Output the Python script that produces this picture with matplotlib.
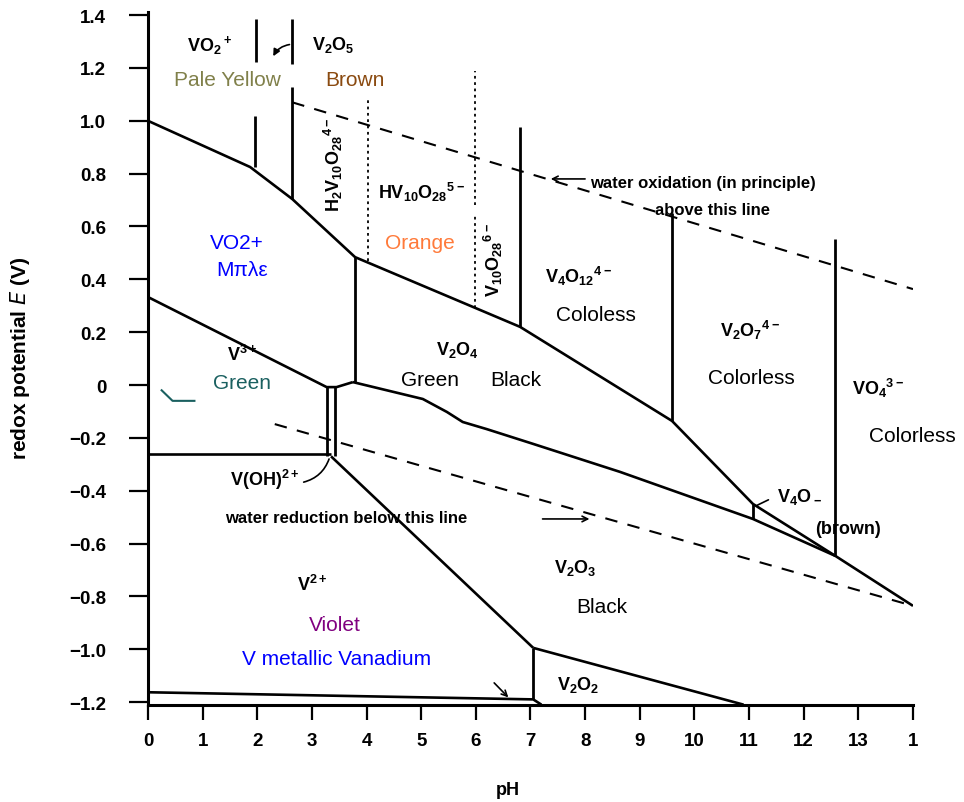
import matplotlib.pyplot as plt

plt.rcParams['font.family'] = ['Liberation Sans', 'DejaVu Sans']
plt.rcParams['mathtext.default'] = 'regular'

# stability boundaries, pH vs E (V)
upper_ph = [0, 1.87, 2.64, 3.79, 6.81, 9.59, 11.07, 12.58, 14]
upper_e = [1.0, 0.825, 0.704, 0.484, 0.22, -0.136, -0.45, -0.647, -0.836]
v2o4_ph = [3.75, 4.43, 5.03, 5.47, 5.76, 6.2, 7.05, 8.64, 11.07, 12.58]
v2o4_e = [0.011, -0.023, -0.053, -0.102, -0.14, -0.167, -0.223, -0.329, -0.507, -0.647]
v3_ph = [0, 3.27, 3.45, 3.75]
v3_e = [0.333, -0.008, -0.008, 0.011]
v3_v2_ph = [0, 3.35]
v3_v2_e = [-0.262, -0.262]
v2_v2o3_ph = [3.35, 7.05]
v2_v2o3_e = [-0.27, -0.995]
v2o2_ph = [7.05, 10.9]
v2o2_e = [-0.995, -1.21]
metal_ph = [0, 7.05, 7.2]
metal_e = [-1.163, -1.19, -1.21]

# vertical boundaries
vert_ph = [1.98, 1.96, 2.64, 2.64, 3.27, 3.43, 3.79, 6.81, 9.59, 12.58, 11.07, 7.05]
vert_lo = [1.223, 0.825, 1.215, 0.704, -0.27, -0.27, 0.011, 0.22, -0.136, -0.647, -0.507, -1.19]
vert_hi = [1.385, 1.018, 1.385, 1.128, -0.008, -0.008, 0.484, 0.975, 0.65, 0.553, -0.45, -0.995]

dot_ph = [4.03, 5.98, 5.98]
dot_lo = [0.47, 0.68, 0.29]
dot_hi = [1.09, 1.19, 0.64]

# water lines
ox_ph = [2.64, 14]
ox_e = [1.07, 0.363]
red_ph = [2.32, 14]
red_e = [-0.148, -0.836]

x_ticks = list(range(15))
x_labels = [str(i) for i in range(14)] + ['1']
y_ticks = [1.4, 1.2, 1.0, 0.8, 0.6, 0.4, 0.2, 0, -0.2, -0.4, -0.6, -0.8, -1.0, -1.2]
y_labels = ['1.4', '1.2', '1.0', '0.8', '0.6', '0.4', '0.2', '0', '\u22120.2', '\u22120.4',
            '\u22120.6', '\u22120.8', '\u22121.0', '\u22121.2']

fig = plt.figure(figsize=(9.64, 8.03), dpi=100)
ax = fig.add_axes([0.1535, 0.1212, 0.7936, 0.862])
ax.set_xlim(0, 14)
ax.set_ylim(-1.21, 1.41)

k = dict(color='black', lw=1.9, solid_capstyle='butt')
ax.plot(upper_ph, upper_e, **k)
ax.plot(v2o4_ph, v2o4_e, **k)
ax.plot(v3_ph, v3_e, **k)
ax.plot(v3_v2_ph, v3_v2_e, **k)
ax.plot(v2_v2o3_ph, v2_v2o3_e, **k)
ax.plot(v2o2_ph, v2o2_e, **k)
ax.plot(metal_ph, metal_e, **k)
ax.vlines(vert_ph, vert_lo, vert_hi, colors='black', lw=2.0)
ax.vlines(dot_ph, dot_lo, dot_hi, colors='black', lw=1.3, linestyles=(0, (1.5, 2)))
ax.plot(ox_ph, ox_e, color='black', lw=1.5, dashes=(6, 5))
ax.plot(red_ph, red_e, color='black', lw=1.5, dashes=(6, 5))

# small teal stroke near V3+ region
ax.plot([0.25, 0.45, 0.85], [-0.02, -0.06, -0.06], color='#1a6060', lw=1.5)

# labels
b = dict(fontweight='bold', fontsize=13, ha='center', va='center')
n = dict(fontsize=15, ha='center', va='center')
ax.text(1.13, 1.29, r'VO$_2$$^+$', **b)
ax.text(3.39, 1.29, r'V$_2$O$_5$', **b)
ax.text(1.45, 1.158, 'Pale Yellow', color='#80804a', **n)
ax.text(3.79, 1.158, 'Brown', color='#8a4a10', **n)
ax.text(3.39, 0.837, r'H$_2$V$_{10}$O$_{28}$$^{4-}$', rotation=90, **b)
ax.text(5.01, 0.734, r'HV$_{10}$O$_{28}$$^{5-}$', **b)
ax.text(4.98, 0.541, 'Orange', color='#ff7a3a', **n)
ax.text(6.33, 0.477, r'V$_{10}$O$_{28}$$^{6-}$', rotation=90, **b)
ax.text(1.63, 0.541, 'VO2+', color='#0000ff', **n)
ax.text(1.72, 0.439, '\u039c\u03c0\u03bb\u03b5', color='#0000ff', **n)
ax.text(1.72, 0.117, r'V$^{3+}$', **b)
ax.text(1.72, 0.011, 'Green', color='#1a6060', **n)
ax.text(5.67, 0.136, r'V$_2$O$_4$', **b)
ax.text(5.16, 0.019, 'Green', color='black', **n)
ax.text(6.73, 0.019, 'Black', color='black', **n)
ax.text(7.87, 0.416, r'V$_4$O$_{12}$$^{4-}$', **b)
ax.text(8.2, 0.265, 'Cololess', color='black', **n)
ax.text(11.02, 0.212, r'V$_2$O$_7$$^{4-}$', **b)
ax.text(11.05, 0.03, 'Colorless', color='black', **n)
ax.text(13.36, -0.008, r'VO$_4$$^{3-}$', **b)
ax.text(13.98, -0.19, 'Colorless', color='black', **n)
ax.text(2.14, -0.356, r'V(OH)$^{2+}$', **b)
ax.text(11.93, -0.42, r'V$_4$O$_-$', **b)
ax.text(12.81, -0.545, '(brown)', **b)
ax.text(7.81, -0.689, r'V$_2$O$_3$', **b)
ax.text(8.31, -0.84, 'Black', color='black', **n)
ax.text(3.0, -0.753, r'V$^{2+}$', **b)
ax.text(3.42, -0.905, 'Violet', color='#800080', **n)
ax.text(3.46, -1.037, 'V metallic Vanadium', color='#0000ff', **n)
ax.text(7.87, -1.132, r'V$_2$O$_2$', **b)

ax.text(8.09, 0.768, 'water oxidation (in principle)', fontweight='bold', fontsize=12,
        ha='left', va='center')
ax.text(9.28, 0.666, 'above this line', fontweight='bold', fontsize=12, ha='left', va='center')
ax.text(1.41, -0.5, 'water reduction below this line', fontweight='bold', fontsize=12,
        ha='left', va='center')

ap = dict(arrowstyle='->', color='black', lw=1.2)
ax.annotate('', xy=(7.32, 0.78), xytext=(8.05, 0.78), arrowprops=ap)
ax.annotate('', xy=(8.13, -0.507), xytext=(7.17, -0.507), arrowprops=ap)
ax.annotate('', xy=(6.63, -1.19), xytext=(6.3, -1.12), arrowprops=ap)
ax.annotate('', xy=(11.1, -0.46), xytext=(11.4, -0.43),
            arrowprops=dict(arrowstyle='-', color='black', lw=1.2))
ax.annotate('', xy=(3.33, -0.27), xytext=(2.8, -0.37),
            arrowprops=dict(arrowstyle='-', color='black', lw=1.2,
                            connectionstyle='arc3,rad=0.3'))
ax.annotate('', xy=(2.27, 1.235), xytext=(2.64, 1.29),
            arrowprops=dict(arrowstyle='-|>', color='black', lw=1.2,
                            connectionstyle='arc3,rad=0.3'))

for s in ['top', 'right']:
    ax.spines[s].set_visible(False)
for s in ['left', 'bottom']:
    ax.spines[s].set_linewidth(2.2)

ax.set_xticks(x_ticks)
ax.set_xticklabels(x_labels)
ax.set_yticks(y_ticks)
ax.set_yticklabels(y_labels)
ax.tick_params(axis='x', direction='out', length=11, width=1.6, pad=9, labelsize=13.5)
ax.tick_params(axis='y', direction='out', length=14, width=1.6, pad=16, labelsize=13.5)
for t in ax.get_xticklabels() + ax.get_yticklabels():
    t.set_fontweight('bold')

fig.text(0.021, 0.554, r'redox potential $\it{E}$ (V)', rotation=90, fontsize=15,
         fontweight='bold', ha='center', va='center')
fig.text(0.527, 0.016, 'pH', fontsize=13, fontweight='bold', ha='center', va='center')

fig.savefig('out.png', dpi=100)
